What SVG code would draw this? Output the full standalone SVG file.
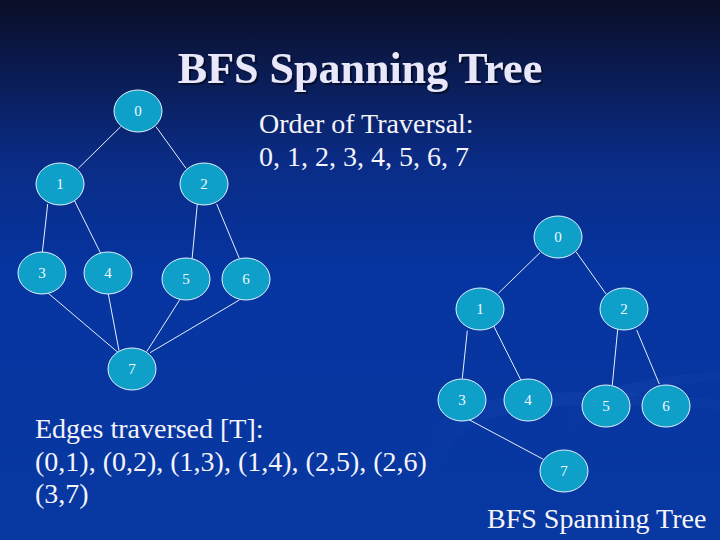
<svg xmlns="http://www.w3.org/2000/svg" width="720" height="540" viewBox="0 0 720 540">
<defs>
<linearGradient id="bg" x1="0" y1="0" x2="0" y2="1">
<stop offset="0" stop-color="#0a0e26"/>
<stop offset="0.12" stop-color="#0b1a4e"/>
<stop offset="0.3" stop-color="#0a2c86"/>
<stop offset="0.5" stop-color="#0634a0"/>
<stop offset="1" stop-color="#0838a2"/>
</linearGradient>
<linearGradient id="sw" x1="0" y1="0" x2="1" y2="0">
<stop offset="0" stop-color="#3a6ad0" stop-opacity="0"/>
<stop offset="0.4" stop-color="#3a6ad0" stop-opacity="0.25"/>
<stop offset="1" stop-color="#3a6ad0" stop-opacity="0.1"/>
</linearGradient>
<filter id="shadow" x="-5%" y="-20%" width="110%" height="140%">
<feDropShadow dx="2" dy="2" stdDeviation="0.5" flood-color="#000" flood-opacity="0.5"/>
</filter>
<style>
.n ellipse{fill:#0ea0c8;stroke:#e4f2ff;stroke-width:1}
.n text{font-family:"Liberation Serif","Times New Roman",serif;font-size:15px;fill:#f4f8ff;text-anchor:middle}
#edges line{stroke:#e4f0ff;stroke-width:1}
.t{font-family:"Liberation Serif","Times New Roman",serif;font-size:28px;fill:#f4f4fa}
.title{font-family:"Liberation Serif","Times New Roman",serif;font-size:44px;font-weight:bold;text-anchor:middle;fill:#e8e8fa}
</style>
</defs>
<rect x="0" y="0" width="720" height="540" fill="url(#bg)"/>
<path d="M420,450 C430,400 520,380 720,400 L720,410 C540,395 450,410 440,470 Z" fill="url(#sw)" opacity="0.5"/>
<path d="M560,420 C580,390 650,375 720,372 L720,380 C660,385 600,400 575,430 Z" fill="url(#sw)" opacity="0.5"/>

<text class="title" x="360" y="83" filter="url(#shadow)">BFS Spanning Tree</text>
<text class="t" x="259" y="133">Order of Traversal:</text>
<text class="t" x="259" y="166">0, 1, 2, 3, 4, 5, 6, 7</text>
<text class="t" x="35" y="438">Edges traversed [T]:</text>
<text class="t" x="35" y="471">(0,1), (0,2), (1,3), (1,4), (2,5), (2,6)</text>
<text class="t" x="35" y="503">(3,7)</text>
<text class="t" x="487" y="528">BFS Spanning Tree</text>

<g id="edges">
<line x1="120.7" y1="126.7" x2="78.3" y2="168.3"/>
<line x1="156" y1="126.7" x2="186" y2="168.3"/>
<line x1="47.7" y1="204" x2="42.3" y2="252.7"/>
<line x1="73.3" y1="198.3" x2="100.7" y2="253.3"/>
<line x1="197.3" y1="204" x2="191.7" y2="262.7"/>
<line x1="216.7" y1="204" x2="239.3" y2="258.3"/>
<line x1="48.3" y1="293.3" x2="118.3" y2="352.7"/>
<line x1="108.3" y1="294" x2="119" y2="350.7"/>
<line x1="180" y1="299.3" x2="146.7" y2="351.7"/>
<line x1="239.3" y1="300" x2="150" y2="352.7"/>
<line x1="540" y1="252.7" x2="498.3" y2="293.3"/>
<line x1="576" y1="251.7" x2="606" y2="294"/>
<line x1="467.3" y1="330.7" x2="462.3" y2="378.3"/>
<line x1="492.7" y1="324" x2="521.7" y2="381.7"/>
<line x1="617.7" y1="329.3" x2="612.3" y2="385"/>
<line x1="636.7" y1="330" x2="659.3" y2="384"/>
<line x1="468.3" y1="419.3" x2="543.3" y2="459.3"/>
</g>

<g id="L0" class="n"><ellipse cx="138" cy="111" rx="24" ry="21"/><text x="138" y="116">0</text></g>
<g id="L1" class="n"><ellipse cx="60" cy="184" rx="24" ry="21"/><text x="60" y="189">1</text></g>
<g id="L2" class="n"><ellipse cx="204" cy="184" rx="24" ry="21"/><text x="204" y="189">2</text></g>
<g id="L3" class="n"><ellipse cx="42" cy="273" rx="24" ry="21"/><text x="42" y="278">3</text></g>
<g id="L4" class="n"><ellipse cx="108" cy="273" rx="24" ry="21"/><text x="108" y="278">4</text></g>
<g id="L5" class="n"><ellipse cx="186" cy="279" rx="24" ry="21"/><text x="186" y="284">5</text></g>
<g id="L6" class="n"><ellipse cx="246" cy="279" rx="24" ry="21"/><text x="246" y="284">6</text></g>
<g id="L7" class="n"><ellipse cx="132" cy="369" rx="24" ry="21"/><text x="132" y="374">7</text></g>

<g id="R0" class="n"><ellipse cx="558" cy="237" rx="24" ry="21"/><text x="558" y="242">0</text></g>
<g id="R1" class="n"><ellipse cx="480" cy="309" rx="24" ry="21"/><text x="480" y="314">1</text></g>
<g id="R2" class="n"><ellipse cx="624" cy="309" rx="24" ry="21"/><text x="624" y="314">2</text></g>
<g id="R3" class="n"><ellipse cx="462" cy="400" rx="24" ry="21"/><text x="462" y="405">3</text></g>
<g id="R4" class="n"><ellipse cx="528" cy="400" rx="24" ry="21"/><text x="528" y="405">4</text></g>
<g id="R5" class="n"><ellipse cx="606" cy="406" rx="24" ry="21"/><text x="606" y="411">5</text></g>
<g id="R6" class="n"><ellipse cx="666" cy="406" rx="24" ry="21"/><text x="666" y="411">6</text></g>
<g id="R7" class="n"><ellipse cx="564" cy="471" rx="24" ry="21"/><text x="564" y="476">7</text></g>
</svg>
